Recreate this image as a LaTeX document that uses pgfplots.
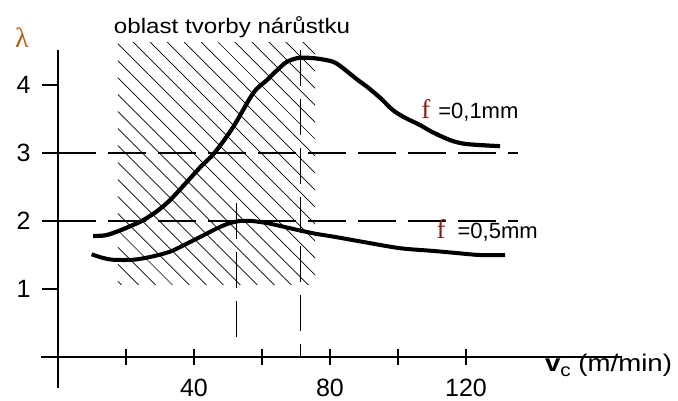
\documentclass[border=0pt]{standalone}
\usepackage{pgfplots}
\pgfplotsset{compat=1.18}
\usetikzlibrary{patterns.meta}
\usepackage{fontspec}
\setmainfont{Liberation Sans}
\newfontfamily\seriffont{Liberation Serif}
\definecolor{lamcol}{rgb}{0.70,0.38,0.08}
\definecolor{fcol}{rgb}{0.55,0.12,0.08}
\begin{document}
\begin{tikzpicture}
\path[use as bounding box] (0,0) rectangle (678bp,401bp);
\begin{axis}[
  scale only axis, width=581.4bp, height=337.28bp,
  at={(41bp,13.4bp)}, anchor=south west,
  xmin=-5, xmax=166, ymin=-0.45, ymax=4.51,
  axis lines=middle, axis line style={-, line width=1.1bp},
  clip=false,
  xtick={20,40,60,80,100,120}, xticklabels={,40,,80,,120},
  ytick={1,2,3,4},
  major tick length=16bp,
  xtick align=center, ytick align=outside,
  tick style={line width=1.1bp, black},
  /pgf/number format/assume math mode=true,
  tick label style={font=\fontsize{25bp}{30bp}\selectfont},
  xticklabel style={anchor=north, yshift=-11bp},
  yticklabel style={anchor=east, xshift=-8bp},
]
% hatched region
\addplot[draw=none, pattern={Lines[angle=-45,distance=12bp,line width=0.7bp]}] coordinates {(17.6,1.06) (75.6,1.06) (75.6,4.62) (17.6,4.62)} -- cycle;
% dashed reference lines
\addplot[black, line width=1.1bp, dash pattern=on 38bp off 12bp] coordinates {(0,3) (135.3,3)};
\addplot[black, line width=1.1bp, dash pattern=on 38bp off 12bp] coordinates {(0,2) (135.3,2)};
\addplot[black, line width=1.1bp, dash pattern=on 36bp off 13bp] coordinates {(71.2,4.51) (71.2,0)};
\addplot[black, line width=1.1bp, dash pattern=on 36bp off 13bp] coordinates {(52.6,2.26) (52.6,0.2)};
% f = 0.1 mm
\addplot[black, line width=4.2bp, smooth] coordinates {
(10.3,1.78) (14,1.79) (18.2,1.86) (22,1.94) (25,2.01) (29,2.14) (33,2.31) (38,2.58) (42,2.8) (46,3.0) (51.5,3.38) (57.4,3.88) (61.4,4.07) (64.5,4.22) (67.3,4.34) (71,4.40) (76,4.39) (81,4.34) (84,4.24) (88,4.08) (91,3.97) (95,3.80) (98.5,3.63) (102,3.52) (106.5,3.41) (110,3.31) (115.3,3.19) (119,3.14) (123,3.12) (130,3.10)};
% f = 0.5 mm
\addplot[black, line width=4bp, smooth] coordinates {
(9.9,1.51) (13,1.46) (16.2,1.43) (22,1.43) (27,1.47) (33,1.55) (38,1.67) (42,1.77) (46.7,1.89) (50,1.96) (53.5,2.0) (57,2.0) (61.4,1.97) (66,1.92) (71.2,1.86) (76,1.81) (81,1.77) (90,1.69) (100.6,1.60) (110.3,1.56) (117,1.53) (124,1.50) (131.5,1.50)};
% labels
\node[anchor=center, text=lamcol, font=\seriffont\fontsize{28bp}{30bp}\selectfont] at (axis cs:-10.6,4.69) {λ};
\node[anchor=base, xscale=1.15, inner sep=0pt, font=\fontsize{21bp}{24bp}\selectfont] at (axis cs:51.2,4.76) {oblast tvorby nárůstku};
\node[anchor=base west, inner sep=0pt, font=\fontsize{22bp}{24bp}\selectfont] at (axis cs:106.8,3.51) {{\seriffont\color{fcol}\fontsize{27bp}{28bp}\selectfont f}\kern8bp=0,1mm};
\node[anchor=base west, inner sep=0pt, font=\fontsize{22bp}{24bp}\selectfont] at (axis cs:111.3,1.75) {{\seriffont\color{fcol}\fontsize{27bp}{28bp}\selectfont f}\kern12bp=0,5mm};
\node[anchor=base west, inner sep=0pt, xscale=1.15, font=\fontsize{24bp}{26bp}\selectfont] at (axis cs:143.2,-0.22) {\textbf{v}\raisebox{-5bp}{\fontsize{18bp}{20bp}\selectfont c} (m/min)};
\end{axis}
\end{tikzpicture}
\end{document}
